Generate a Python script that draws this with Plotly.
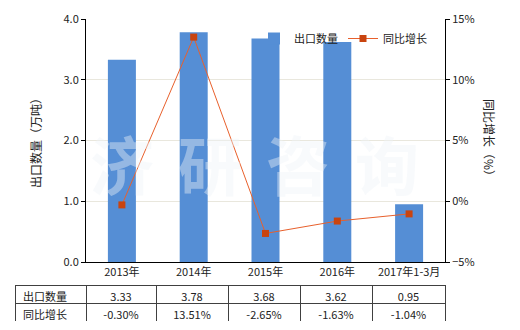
import plotly.graph_objects as go

categories = ["2013年", "2014年", "2015年", "2016年", "2017年1-3月"]
export_qty = [3.33, 3.78, 3.68, 3.62, 0.95]
yoy_growth = [-0.30, 13.51, -2.65, -1.63, -1.04]
qty_labels = ["3.33", "3.78", "3.68", "3.62", "0.95"]
yoy_labels = ["-0.30%", "13.51%", "-2.65%", "-1.63%", "-1.04%"]
row_names = ["出口数量", "同比增长"]
watermark = ["济", "研", "咨", "询"]

FONT = "Noto Sans CJK SC"
W, H = 520, 330
ml, mr, mt, mb = 15, 75, 19, 9
pw = W - ml - mr
ph = H - mt - mb

def px_x(x):
    return (x - ml) / pw

def px_y(y):
    return (H - mb - y) / ph

fig = go.Figure()

fig.add_trace(go.Bar(
    x=categories, y=export_qty, name="出口数量",
    marker=dict(color="#558ED5", line=dict(width=0)),
    width=0.39, xaxis="x", yaxis="y",
))
fig.add_trace(go.Scatter(
    x=categories, y=yoy_growth, name="同比增长",
    mode="lines+markers",
    line=dict(color="#E8602C", width=1),
    marker=dict(symbol="square", size=7, color="#C9440F"),
    xaxis="x", yaxis="y2",
))

fig.add_trace(go.Table(
    domain=dict(x=[0, 1], y=[0, px_y(285)]),
    columnwidth=[71, 70, 72, 72, 72, 73],
    header=dict(
        values=[row_names[0]] + qty_labels,
        align=["left"] + ["center"] * 5,
        fill=dict(color="white"),
        line=dict(color="#404040", width=1),
        font=dict(family=FONT, size=11, color="#222"),
        height=18,
    ),
    cells=dict(
        values=[[row_names[1]]] + [[v] for v in yoy_labels],
        align=["left"] + ["center"] * 5,
        fill=dict(color="white"),
        line=dict(color="#404040", width=1),
        font=dict(family=FONT, size=11, color="#222"),
        height=18,
    ),
))

annotations = []
wm_x = [122, 210, 298, 387]
for ch, cx in zip(watermark, wm_x):
    annotations.append(dict(
        text="<b>" + ch + "</b>", x=px_x(cx), y=px_y(162), xref="paper", yref="paper",
        showarrow=False, xanchor="center", yanchor="middle",
        font=dict(family=FONT, size=64, color="rgba(238,242,247,0.42)"),
    ))
annotations.append(dict(
    text="出口数量（万吨）", x=px_x(35), y=px_y(140), xref="paper", yref="paper",
    showarrow=False, textangle=-90, xanchor="center", yanchor="middle",
    font=dict(family=FONT, size=12, color="#222"),
))
annotations.append(dict(
    text="同比增长（%）", x=px_x(490), y=px_y(140), xref="paper", yref="paper",
    showarrow=False, textangle=90, xanchor="center", yanchor="middle",
    font=dict(family=FONT, size=12, color="#222"),
))

fig.update_layout(
    width=W, height=H,
    margin=dict(l=ml, r=mr, t=mt, b=mb, autoexpand=False),
    paper_bgcolor="white", plot_bgcolor="white",
    font=dict(family=FONT, size=11, color="#222"),
    showlegend=True,
    legend=dict(
        orientation="h", x=px_x(254), y=px_y(24), xanchor="left", yanchor="top",
        bgcolor="rgba(0,0,0,0)", font=dict(family=FONT, size=11, color="#222"),
        itemwidth=30, tracegroupgap=0,
    ),
    xaxis=dict(
        domain=[px_x(86), 1], type="category",
        showline=True, linecolor="black", linewidth=1,
        ticks="", showgrid=False,
        tickfont=dict(family=FONT, size=11, color="#222"),
        anchor="y",
    ),
    yaxis=dict(
        domain=[px_y(262), 1], range=[0, 4], dtick=1, tickformat=".1f",
        showline=True, linecolor="black", linewidth=1,
        ticks="outside", ticklen=4, tickcolor="black",
        showgrid=True, gridcolor="#E9E7DD", gridwidth=1,
        zeroline=False,
        tickfont=dict(family=FONT, size=11, color="#222"),
        anchor="x",
    ),
    yaxis2=dict(
        domain=[px_y(262), 1], range=[-5, 15], dtick=5, ticksuffix="%",
        overlaying="y", side="right", anchor="x",
        showline=True, linecolor="black", linewidth=1,
        ticks="outside", ticklen=4, tickcolor="black",
        showgrid=False, zeroline=False,
        tickfont=dict(family=FONT, size=11, color="#222"),
    ),
    annotations=annotations,
    bargap=0.2,
)

fig.write_html("out.html")
